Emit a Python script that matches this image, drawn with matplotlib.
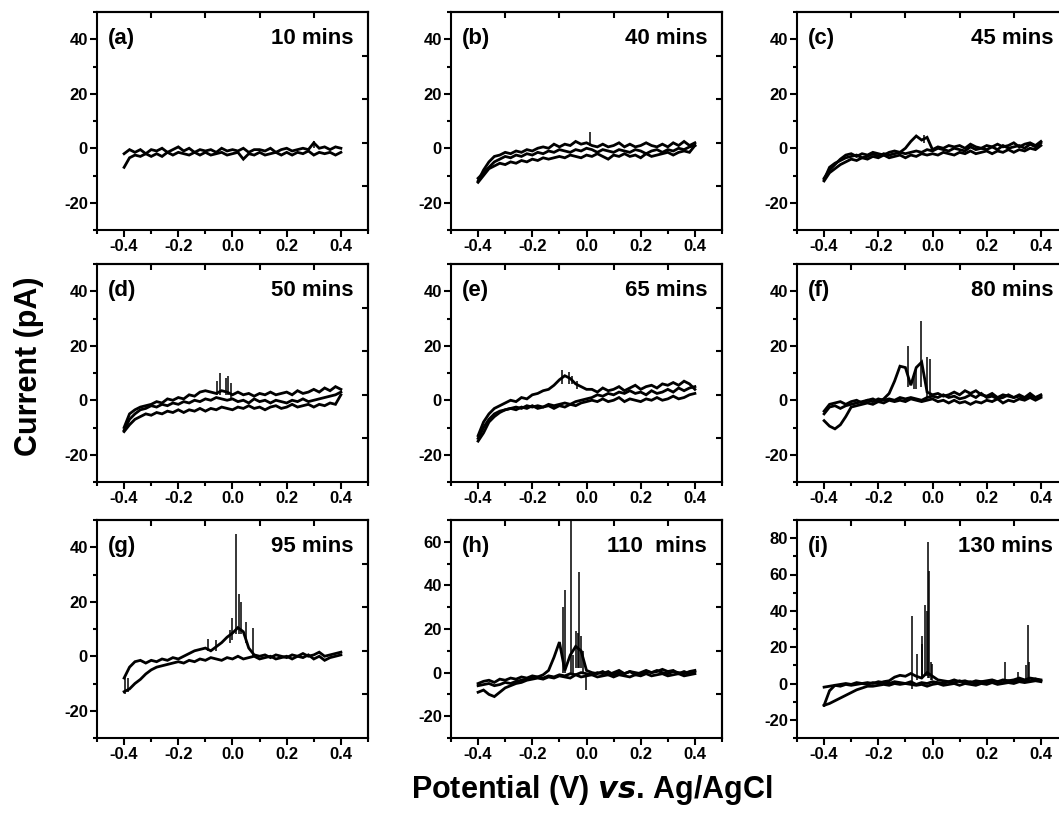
import matplotlib
matplotlib.use("Agg")
import matplotlib.pyplot as plt
from matplotlib.ticker import MultipleLocator

plt.rcParams['font.family'] = ['Liberation Sans', 'DejaVu Sans']
plt.rcParams['font.weight'] = 'bold'

# Potential grid (V)
POT = [-0.40, -0.38, -0.36, -0.34, -0.32, -0.30, -0.28, -0.26, -0.24, -0.22,
       -0.20, -0.18, -0.16, -0.14, -0.12, -0.10, -0.08, -0.06, -0.04, -0.02,
       0.00, 0.02, 0.04, 0.06, 0.08, 0.10, 0.12, 0.14, 0.16, 0.18,
       0.20, 0.22, 0.24, 0.26, 0.28, 0.30, 0.32, 0.34, 0.36, 0.38, 0.40]

LABELS = ['(a)', '(b)', '(c)', '(d)', '(e)', '(f)', '(g)', '(h)', '(i)']
TIMES = ['10 mins', '40 mins', '45 mins', '50 mins', '65 mins', '80 mins',
         '95 mins', '110  mins', '130 mins']
YLIMS = [(-30, 50)] * 7 + [(-30, 70), (-30, 90)]

# Current branches (pA)
A_UP = [-2.0, -0.5, -1.5, -0.5, -2.0, -0.5, -1.0, 0.0, -1.5, -0.5, 0.5, -1.0, 0.0, -1.5, -0.5, -1.0, -0.5, -1.5, 0.0, -1.0,
        -0.5, -1.0, 0.0, -1.5, -0.5, -0.5, -1.0, 0.0, -1.5, -0.5, 0.0, -1.0, -0.5, 0.0, -0.5, 2.0, 0.0, 0.5, -0.5, 0.5, 0.0]
A_LO = [-7.0, -3.5, -2.5, -3.0, -2.0, -3.0, -2.0, -3.0, -1.5, -2.5, -1.5, -2.0, -2.5, -1.5, -2.5, -1.5, -2.5, -2.0, -1.5, -2.5,
        -2.0, -1.5, -4.0, -2.0, -2.5, -1.5, -2.5, -2.0, -1.5, -2.5, -1.5, -2.5, -1.5, -2.0, -1.0, -2.5, -1.5, -2.0, -1.5, -2.5, -1.5]

B_UP = [-12.0, -8.0, -5.0, -3.0, -2.5, -1.5, -2.0, -1.0, -1.5, -0.5, -1.0, 0.0, 0.5, 0.0, 1.5, 0.5, 1.5, 1.0, 2.5, 1.5,
        2.0, 1.0, 0.5, 1.5, 0.5, 1.0, 2.0, 0.5, 1.5, 0.5, 1.0, 2.0, 1.0, 0.5, 1.5, 0.5, 2.0, 1.0, 2.5, 1.0, 2.0]
B_MID = [-11.0, -9.0, -7.0, -5.0, -4.0, -3.0, -3.5, -2.5, -3.0, -2.0, -2.5, -1.5, -2.0, -1.0, -1.5, -0.5, -1.0, -1.5, -0.5, -1.0,
         0.0, -0.5, -1.5, -0.5, -1.0, -1.5, -0.5, -1.0, -1.5, -0.5, -1.0, -2.0, -1.0, -0.5, -1.5, -0.5, -1.0, 0.0, -0.5, 0.5, 1.0]
B_LO = [-12.5, -10.0, -7.5, -6.5, -5.5, -6.0, -5.0, -5.5, -4.5, -5.0, -4.0, -4.5, -3.5, -4.0, -3.5, -3.0, -3.5, -2.5, -3.0, -3.5,
        -2.5, -3.0, -2.0, -3.0, -4.0, -2.5, -3.0, -2.0, -3.0, -2.5, -3.5, -2.0, -3.0, -2.5, -2.0, -1.5, -2.5, -1.5, -1.0, -1.5, 1.0]

C_UP = [-11.0, -8.0, -6.0, -4.0, -2.5, -2.0, -3.0, -2.0, -2.5, -1.5, -2.0, -2.5, -1.5, -1.0, -1.5, 0.0, 2.5, 4.5, 3.0, 4.0,
        -0.5, 0.5, 0.0, 1.0, 0.5, 1.0, 0.0, 1.5, 0.5, 0.0, 1.0, 0.5, 1.5, 0.5, 1.0, 2.0, 0.5, 1.5, 2.0, 1.0, 2.5]
C_MID = [-11.5, -7.0, -5.5, -4.5, -3.5, -3.0, -2.5, -3.5, -3.0, -2.0, -3.0, -2.0, -2.5, -2.0, -1.5, -2.0, -1.5, -1.0, -1.5, -0.5,
         -1.0, 0.0, -0.5, -1.0, 0.0, -0.5, -1.0, 0.5, -0.5, 0.0, -0.5, 0.5, -0.5, 1.0, 0.0, 0.5, 1.0, 0.0, 1.5, 0.5, 2.0]
C_LO = [-12.0, -9.0, -7.5, -6.0, -5.0, -4.0, -4.5, -3.5, -4.0, -3.0, -3.5, -2.5, -3.5, -3.0, -2.5, -3.5, -2.5, -3.0, -2.0, -2.5,
        -2.0, -2.5, -1.5, -2.0, -2.5, -1.5, -2.0, -1.0, -2.0, -1.5, -1.0, -2.0, -1.0, -1.5, -0.5, -1.5, -0.5, -1.0, 0.0, -0.5, 1.0]

D_UP = [-10.0, -5.0, -3.5, -2.5, -2.0, -1.5, -0.5, -1.0, 0.5, 0.0, 1.0, 0.5, 2.0, 1.5, 3.0, 3.5, 3.0, 2.5, 3.5, 3.0,
        2.0, 3.0, 2.0, 2.5, 1.5, 2.5, 2.0, 3.0, 2.0, 2.5, 3.0, 2.0, 3.5, 2.5, 3.0, 4.0, 3.0, 4.5, 3.5, 5.0, 4.0]
D_MID = [-11.0, -7.0, -5.0, -3.5, -3.0, -2.0, -2.5, -1.5, -2.0, -1.0, -1.5, -0.5, -1.0, 0.0, -0.5, 0.5, 0.0, 1.0, 0.5, 0.0,
         0.5, -0.5, 0.0, -1.0, 0.5, -0.5, 0.0, -1.0, 0.0, -0.5, -1.0, 0.0, -0.5, 0.5, -0.5, 0.0, 0.5, 1.0, 1.5, 2.0, 3.0]
D_LO = [-11.5, -9.0, -7.0, -6.0, -5.0, -5.5, -4.5, -5.0, -4.0, -4.5, -3.5, -4.5, -3.5, -4.0, -3.0, -4.0, -3.0, -3.5, -2.5, -3.0,
        -3.5, -2.5, -3.0, -2.0, -3.0, -2.5, -3.5, -2.5, -2.0, -3.0, -2.5, -1.5, -2.5, -2.0, -1.5, -2.5, -1.5, -2.0, -1.0, -1.5, 2.0]

E_UP = [-13.0, -8.0, -5.0, -3.0, -2.0, -1.0, 0.0, -0.5, 1.0, 0.5, 2.0, 2.5, 3.5, 4.0, 5.5, 7.5, 9.0, 8.0, 6.0, 5.0,
        4.0, 4.0, 3.0, 4.5, 3.5, 4.0, 5.0, 3.5, 4.5, 5.5, 4.0, 5.0, 5.5, 4.5, 6.0, 5.5, 6.5, 5.5, 7.0, 6.0, 4.0]
E_MID = [-14.0, -10.0, -7.0, -5.0, -4.0, -3.5, -3.0, -2.5, -3.0, -2.0, -2.5, -2.0, -2.5, -1.5, -2.0, -1.5, -1.0, -1.5, -0.5, 0.0,
         0.5, 1.0, 2.0, 1.5, 2.5, 2.0, 3.0, 2.5, 3.5, 2.5, 3.0, 2.0, 3.5, 2.5, 3.0, 4.0, 3.0, 4.5, 3.5, 4.5, 5.0]
E_LO = [-15.0, -12.0, -8.0, -6.0, -4.5, -3.5, -3.0, -3.5, -2.5, -3.0, -2.0, -3.0, -2.5, -2.0, -3.0, -2.0, -2.5, -1.5, -2.0, -1.0,
        -0.5, 0.0, -0.5, 0.5, -0.5, 0.0, 1.0, -0.5, 0.5, 0.0, -0.5, 0.5, 0.0, 1.0, 0.0, 0.5, 1.5, 0.5, 1.0, 2.0, 2.5]

F_UP = [-4.0, -1.5, -1.0, -0.5, -1.5, -0.5, 0.0, -1.0, 0.0, 0.5, -0.5, 0.5, 2.5, 7.0, 12.5, 12.0, 5.5, 12.0, 14.0, 3.0,
        2.0, 2.5, 1.5, 2.0, 3.0, 2.0, 3.5, 2.5, 3.5, 2.0, 1.5, 2.5, 1.0, 2.0, 1.5, 1.0, 2.0, 1.0, 2.5, 1.0, 1.5]
F_MID = [-5.0, -2.5, -2.0, -3.0, -2.0, -1.5, -1.0, -0.5, 0.0, -0.5, 0.5, 0.0, 0.5, 0.0, 1.0, 0.5, 1.0, 0.5, 0.0, 1.0,
         1.5, 1.0, 2.0, 1.0, 1.5, 0.5, 1.0, 2.0, 1.0, 2.5, 1.0, 1.5, 0.5, 1.0, 2.0, 1.0, 1.5, 0.5, 1.5, 1.0, 2.0]
F_LO = [-7.5, -9.5, -10.5, -9.0, -6.0, -2.5, -2.0, -1.5, -1.0, -1.5, -0.5, -1.0, 0.0, -0.5, 0.0, -0.5, 0.5, 0.0, -0.5, 0.0,
        0.5, -0.5, 0.0, -1.0, 0.0, -1.0, -0.5, -1.5, -0.5, -1.0, 0.0, -0.5, 0.5, -1.0, 0.0, -0.5, 0.5, 0.0, 1.0, 0.0, 1.0]

G_UP = [-8.0, -4.0, -2.0, -1.5, -2.5, -1.5, -2.0, -1.0, -1.5, -0.5, -1.0, 0.0, 1.0, 2.0, 2.5, 3.0, 2.0, 3.5, 5.0, 7.0,
        8.5, 10.5, 9.0, 3.0, 0.5, 0.0, 0.5, -0.5, 0.5, 0.0, -0.5, 0.5, 0.0, 1.0, 0.0, 0.5, 1.5, 0.0, 0.5, 1.0, 1.5]
G_LO = [-13.0, -12.0, -10.0, -8.5, -6.5, -5.0, -4.0, -3.5, -3.0, -2.5, -2.0, -2.5, -1.5, -2.0, -1.0, -1.5, -0.5, -1.0, -1.5, -0.5,
        -1.0, 0.0, -1.0, -0.5, 0.0, -1.0, -0.5, 0.0, -1.0, -0.5, 0.0, -1.0, 0.0, -0.5, 0.5, -1.0, 0.0, -1.5, -0.5, 0.0, 0.5]

H_UP = [-5.0, -4.0, -3.5, -4.5, -3.0, -3.5, -2.5, -3.0, -2.0, -2.5, -1.5, -2.0, -1.0, 1.0, 7.0, 14.0, 1.0, 8.0, 12.0, 10.0,
        1.0, 0.0, -0.5, 0.5, -1.0, 0.0, 1.0, -0.5, 0.5, -1.0, 0.0, 1.0, 0.0, 0.5, 1.5, 0.5, 1.0, -0.5, 0.5, -0.5, 0.5]
H_MID = [-6.0, -5.5, -5.0, -6.0, -5.5, -4.5, -5.0, -4.0, -3.5, -3.0, -2.5, -2.0, -2.5, -1.5, -2.0, -1.0, -1.5, -0.5, -1.0, 0.0,
         -0.5, -1.0, 0.0, -0.5, 0.5, -1.0, 0.0, -0.5, 0.5, 0.0, -0.5, 0.5, 0.0, 1.0, 0.0, -0.5, 0.5, 0.0, -0.5, 0.5, 1.0]
H_LO = [-9.0, -8.0, -10.0, -11.0, -9.0, -7.0, -6.0, -5.0, -4.5, -3.5, -3.0, -2.5, -3.0, -2.0, -2.5, -1.5, -2.0, -2.5, -1.0, -2.0,
        -1.5, -1.0, -2.0, -1.5, -1.0, -2.0, -1.0, -1.5, -2.0, -1.0, -1.5, -0.5, -1.5, -1.0, -0.5, -1.5, -1.0, -0.5, -1.5, -1.0, -0.5]

I_UP = [-2.0, -1.5, -1.0, -1.5, -0.5, -1.0, -0.5, 0.0, -0.5, 0.5, 0.0, 1.0, 1.5, 3.5, 4.5, 4.0, 5.5, 4.0, 3.0, 6.0,
        4.0, 2.0, 1.5, 1.0, 2.0, 1.0, 1.5, 0.5, 1.5, 1.0, 1.5, 2.0, 1.0, 2.0, 1.5, 2.0, 3.0, 2.0, 3.0, 2.5, 2.0]
I_MID = [-12.0, -4.0, -1.0, -0.5, 0.0, -0.5, 0.5, 0.0, 0.5, 0.0, 1.0, 0.5, 0.0, 1.0, 0.5, 0.0, 1.0, -0.5, 0.5, 0.0,
         1.0, 0.5, 0.0, 1.0, 0.5, 1.5, 0.5, 1.0, 0.0, 1.0, 0.5, 1.5, 1.0, 0.5, 1.5, 1.0, 2.0, 1.0, 1.5, 2.5, 1.5]
I_LO = [-12.0, -11.0, -9.5, -8.0, -6.5, -5.0, -3.5, -2.5, -1.5, -1.5, -1.0, -0.5, -1.0, 0.0, -0.5, 0.0, -0.5, -1.0, -0.5, -1.5,
        -0.5, 0.0, -1.0, -0.5, 0.0, -1.0, 0.0, -0.5, -1.0, 0.0, -0.5, 0.5, -0.5, 0.0, 0.5, 0.0, 1.0, 0.5, 1.0, 1.5, 1.0]

BRANCHES = [
    [A_UP, A_LO],
    [B_UP, B_MID, B_LO],
    [C_UP, C_MID, C_LO],
    [D_UP, D_MID, D_LO],
    [E_UP, E_MID, E_LO],
    [F_UP, F_MID, F_LO],
    [G_UP, G_LO],
    [H_UP, H_MID, H_LO],
    [I_UP, I_MID, I_LO],
]

# Current spikes: potential, low end, high end
SPK_X = [
    [0.30],
    [0.012],
    [-0.03],
    [-0.056, -0.047, -0.024, -0.018, -0.006],
    [-0.09, -0.064, -0.055, -0.035],
    [-0.091, -0.070, -0.060, -0.042, -0.022, -0.010],
    [-0.395, -0.385, -0.092, -0.060, -0.010, 0.000, 0.012, 0.025, 0.030, 0.050, 0.074],
    [-0.088, -0.080, -0.059, -0.050, -0.037, -0.030, -0.026, -0.020, -0.012, -0.003],
    [-0.074, -0.059, -0.040, -0.037, -0.026, -0.022, -0.015, -0.012, -0.005, -0.001, 0.267, 0.314, 0.345, 0.351, 0.355],
]
SPK_LO = [
    [0],
    [1],
    [2],
    [2, 2, 2, 2, 1],
    [6, 6, 6, 4],
    [5, 4, 4, 5, 1, 1],
    [-14, -13, 2, 2, 5, 6, 8, 8, 8, 5, 0],
    [0, 0, 0, 0, 2, 2, 2, 2, 0, -8],
    [-3, 2, 3, 3, 4, 4, 3, 3, 2, 2, 1, 1, 2, 2, 2],
]
SPK_HI = [
    [2.5],
    [6],
    [5],
    [7, 10, 8, 9, 6.5],
    [11, 10.5, 9, 7],
    [20, 10, 12, 29, 16, 15],
    [-7, -8, 6.5, 6, 9.5, 14, 45, 23, 20, 12.5, 10.5],
    [30, 38, 70, 8, 19, 18, 46, 17, 10, 0],
    [37, 16, 26, 22, 43, 40, 78, 62, 12, 11, 12, 6.5, 10, 32, 12],
]

W, H = 1059, 819
fig = plt.figure(figsize=(W / 100, H / 100), dpi=100)

col_left = [97, 451, 797]
row_top = [12, 264, 520]
ax_w, ax_h = 271, 218

for k in range(9):
    r, c = divmod(k, 3)
    left = col_left[c] / W
    bottom = 1 - (row_top[r] + ax_h) / H
    ax = fig.add_axes([left, bottom, ax_w / W, ax_h / H])
    for br in BRANCHES[k]:
        ax.plot(POT, br, color='black', lw=2.0, solid_joinstyle='miter')
    ax.vlines(SPK_X[k], SPK_LO[k], SPK_HI[k], color='black', lw=1.1)
    ymin, ymax = YLIMS[k]
    ax.set_xlim(-0.5, 0.5)
    ax.set_ylim(ymin, ymax)
    ax.set_xticks([-0.4, -0.2, 0.0, 0.2, 0.4])
    ax.set_xticklabels(['-0.4', '-0.2', '0.0', '0.2', '0.4'])
    ax.xaxis.set_minor_locator(MultipleLocator(0.1))
    ax.yaxis.set_minor_locator(MultipleLocator(10))
    yt = [t for t in range(-20, ymax, 20)]
    ax.set_yticks(yt)
    ax.set_yticklabels([str(t) for t in yt])
    ax.tick_params(axis='both', which='major', direction='out', length=5, width=1.5,
                   labelsize=12, pad=1.5)
    ax.tick_params(axis='both', which='minor', direction='out', length=3, width=1.5)
    ax.tick_params(top=False, right=False)
    for lab in ax.get_xticklabels() + ax.get_yticklabels():
        lab.set_fontweight('bold')
    for sp in ax.spines.values():
        sp.set_linewidth(1.5)
    # opposite-axis ticks (inward, unlabeled)
    sx = ax.secondary_xaxis('top')
    sx.set_xticks([-0.3, -0.1, 0.1, 0.3])
    sx.tick_params(direction='in', length=4, width=1.5, labeltop=False)
    sx.xaxis.set_minor_locator(plt.NullLocator())
    sx.spines['top'].set_linewidth(1.5)
    sy = ax.secondary_yaxis('right')
    sy.set_yticks([ymin + f * (ymax - ymin) for f in (0.2, 0.4, 0.6, 0.8)])
    sy.tick_params(direction='in', length=4, width=1.5, labelright=False)
    sy.yaxis.set_minor_locator(plt.NullLocator())
    sy.spines['right'].set_linewidth(1.5)

    ax.text(0.04, 0.88, LABELS[k], transform=ax.transAxes, ha='left', va='center',
            fontsize=16, fontweight='bold')
    ax.text(0.945, 0.88, TIMES[k], transform=ax.transAxes, ha='right', va='center',
            fontsize=16, fontweight='bold')

fig.text(29 / W, 1 - 366 / H, 'Current (pA)', rotation=90, ha='center', va='center',
         fontsize=22, fontweight='bold')
fig.text(592 / W, 1 - 790 / H, r'Potential (V) $\bf\it{vs}$. Ag/AgCl', ha='center', va='center',
         fontsize=22, fontweight='bold')

fig.savefig('out.png', dpi=100)
